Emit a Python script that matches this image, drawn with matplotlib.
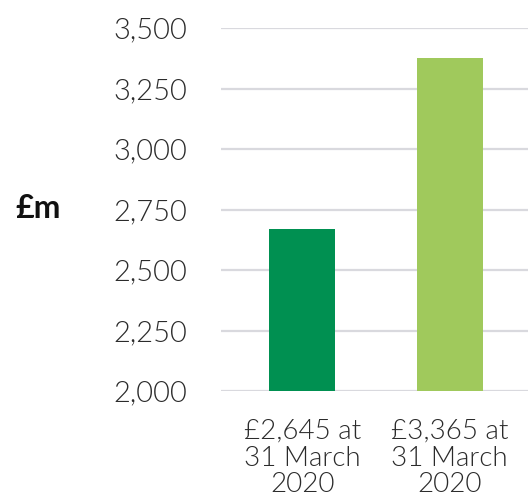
import matplotlib
matplotlib.use('Agg')
import matplotlib.pyplot as plt
from matplotlib.ticker import FuncFormatter

# --- Data ---
categories = ['£2,645 at\n31 March\n2020', '£3,365 at\n31 March\n2020']
values = [2670, 3375]
bar_colors = ['#009051', '#A0C95C']
y_ticks = [2000, 2250, 2500, 2750, 3000, 3250, 3500]

plt.rcParams['font.family'] = ['Lato', 'DejaVu Sans']

fig = plt.figure(figsize=(5.28, 4.99), dpi=100)
ax = fig.add_axes([221 / 528, 1 - 391 / 499, 1 - 221 / 528, (391 - 28) / 499])

x = range(len(categories))
ax.bar(x, [v - 2000 for v in values], bottom=2000, width=0.446, color=bar_colors, zorder=3)

ax.set_ylim(2000, 3500)
ax.set_xlim(-0.55, 1.53)
ax.set_yticks(y_ticks)
ax.yaxis.set_major_formatter(FuncFormatter(lambda v, p: f'{int(v):,}'))
ax.set_xticks(list(x))
ax.set_xticklabels(categories, linespacing=1.09)

for lbl in ax.get_yticklabels():
    lbl.set_fontweight(300)
    lbl.set_fontsize(21)
    lbl.set_verticalalignment('center_baseline')
for lbl in ax.get_xticklabels():
    lbl.set_fontweight(300)
    lbl.set_fontsize(20)

ax.tick_params(axis='y', length=0, pad=24, labelcolor='#2b2b2b')
ax.tick_params(axis='x', length=0, pad=20, labelcolor='#2b2b2b')
ax.grid(axis='y', color='#d9d9de', linewidth=1.6, zorder=0)
for s in ax.spines.values():
    s.set_visible(False)

fig.text(15 / 528, 1 - 209 / 499, '£m', fontsize=23, fontweight='bold', color='#111111',
         ha='left', va='center')

fig.savefig('out.png', dpi=100)
plt.close()
